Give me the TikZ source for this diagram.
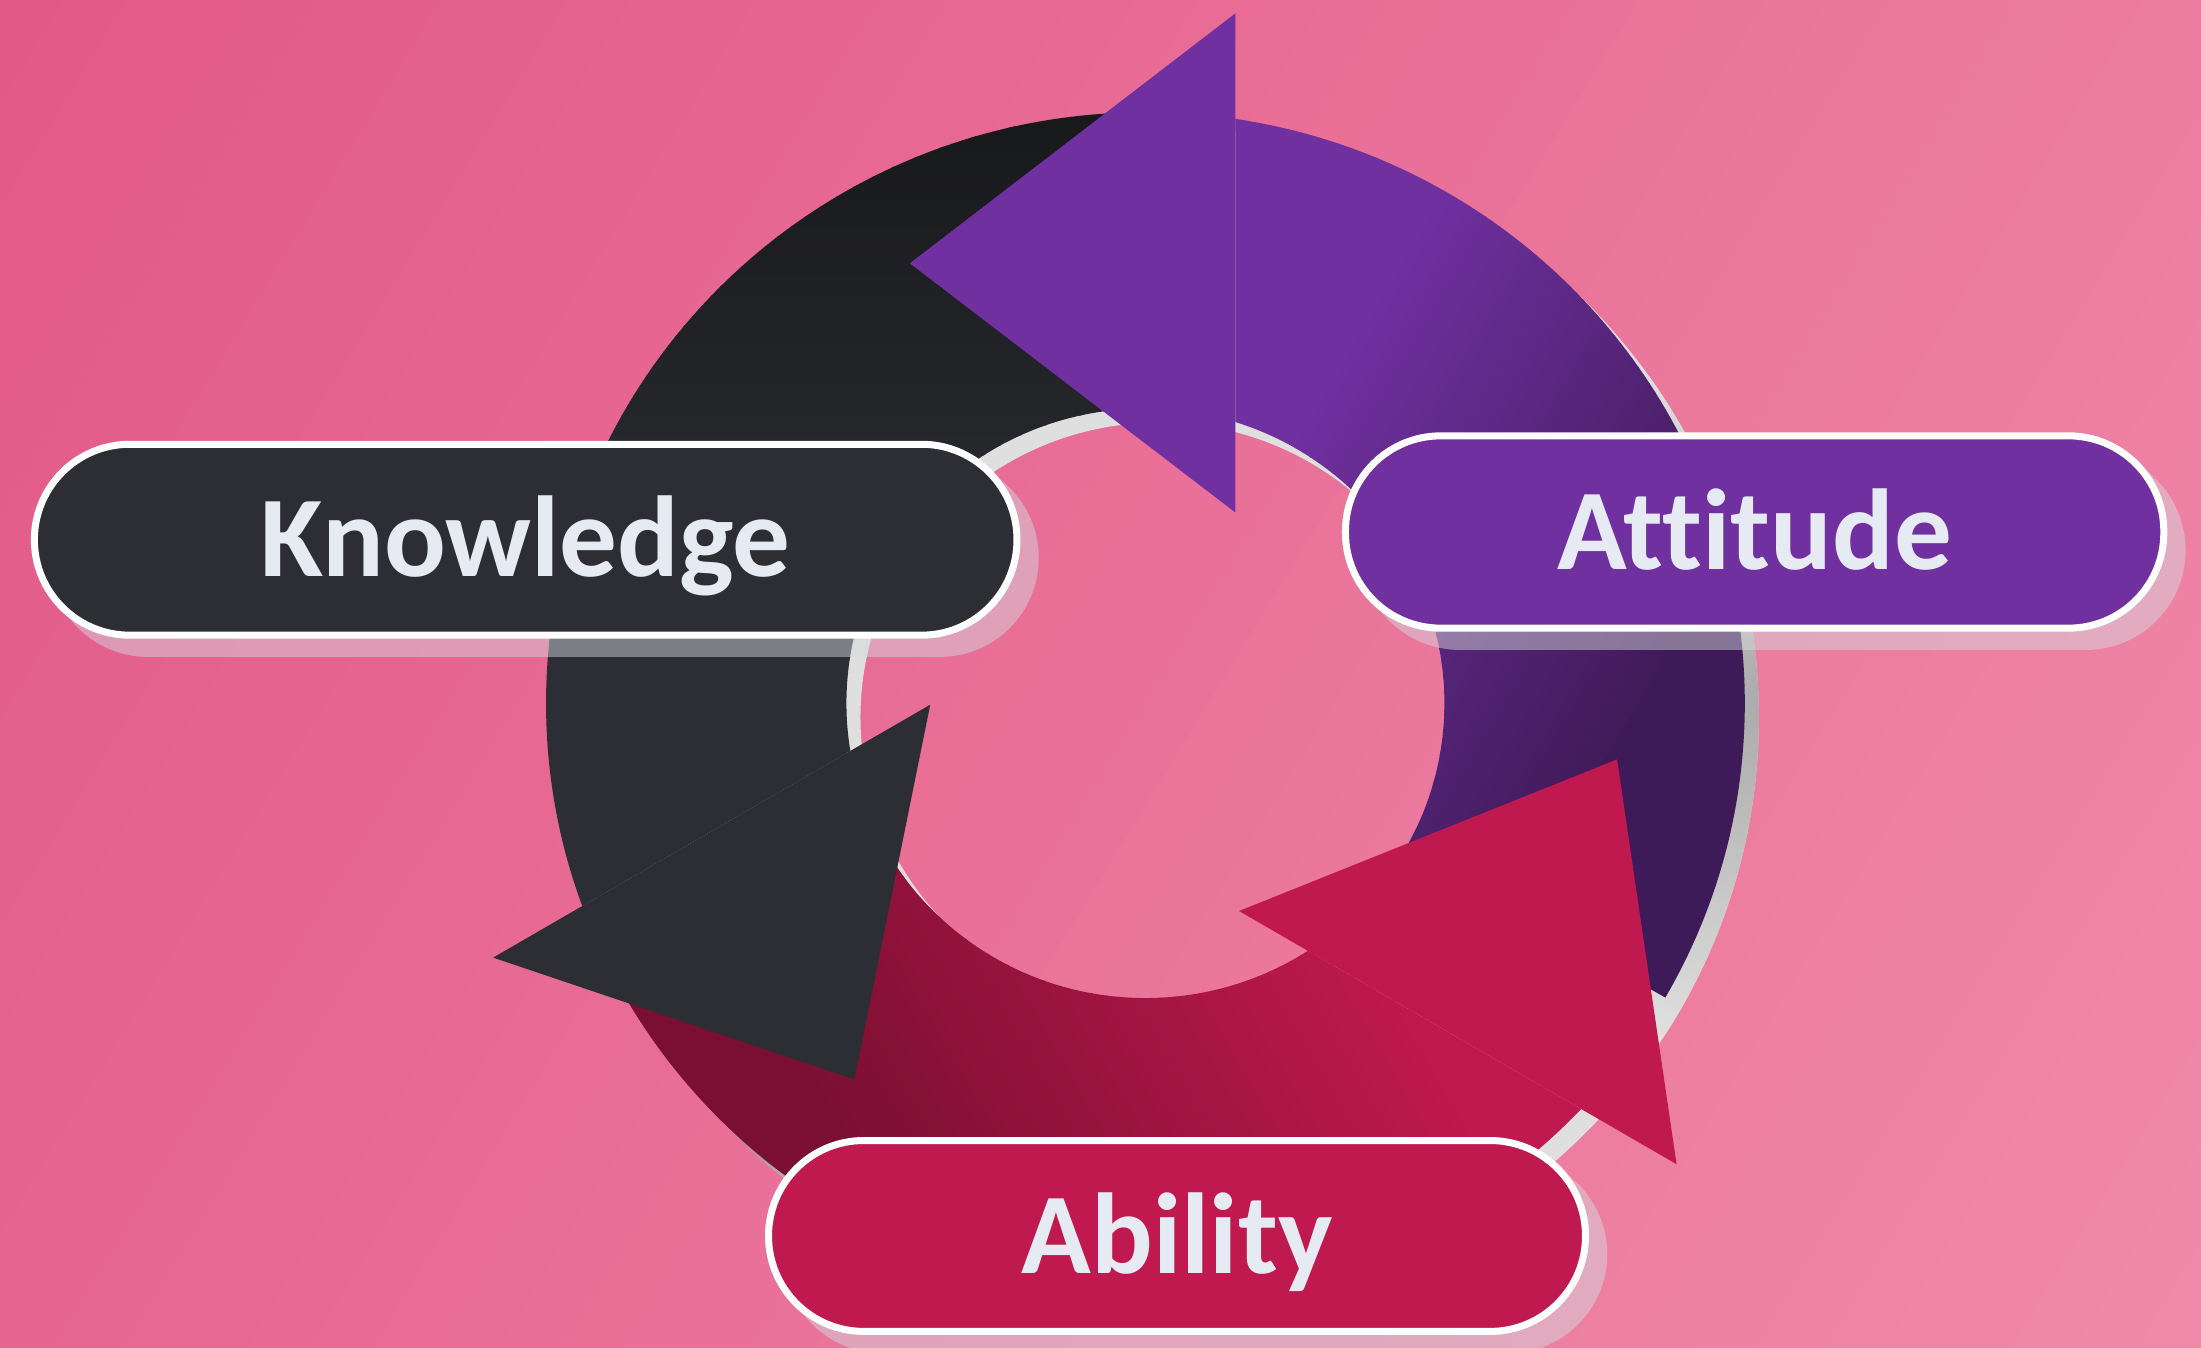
\documentclass[tikz,border=0pt]{standalone}
\usepackage{fontspec}
\setmainfont{Carlito}[Ligatures={NoCommon}]
\usetikzlibrary{calc}

\definecolor{bgA}{HTML}{E25887}
\definecolor{bgB}{HTML}{F08AAA}
\definecolor{inkK}{HTML}{2D2E33}
\definecolor{inkKtop}{HTML}{18191B}
\definecolor{inkA}{HTML}{7030A0}
\definecolor{inkAdark}{HTML}{3F1A58}
\definecolor{inkB}{HTML}{C0194F}
\definecolor{inkBdark}{HTML}{7A0F33}
\definecolor{labeltext}{HTML}{E6EAF3}
\definecolor{ringgray}{HTML}{DFDFDF}
\definecolor{ringgraymid}{HTML}{A9A9A9}
\definecolor{ringgraydark}{HTML}{6C6C6C}
\definecolor{pillshade}{HTML}{D7D9DD}

% linear colour ramp built from thin strips:
% #1,#2 start point, #3 direction angle, #4 ramp length,
% #5 start colour, #6 end colour, #7 half width of the band
\newcommand\linstrips[7]{%
  \begin{scope}[shift={(#1,#2)}, rotate=#3]
    \pgfmathsetmacro\stp{#4/48}%
    \fill[#5] (-3000,-#7) rectangle (1,#7);
    \fill[#6] (#4-1,-#7) rectangle (3000,#7);
    \foreach \k in {0,...,47}{%
      \pgfmathsetmacro\sa{\stp*\k}%
      \pgfmathsetmacro\sb{\stp*(\k+1)+1}%
      \pgfmathsetmacro\pc{100*(\k+0.5)/48}%
      \fill[#6!\pc!#5] (\sa,-#7) rectangle (\sb,#7);
    }
  \end{scope}}

% ring outline: outer ellipse one way, inner ellipse the other way
\newcommand\ringpath[2]{%
  (#1+427,#2) arc[start angle=0, end angle=360, x radius=427pt, y radius=421pt] -- cycle
  (#1+213,#2) arc[start angle=360, end angle=0, x radius=213pt, y radius=210pt] -- cycle}

\tikzset{
  pill/.style={draw=white, line width=5pt, rectangle, rounded corners=67.9pt,
    minimum height=136pt, inner sep=0pt, text=labeltext,
    font=\fontsize{82pt}{96pt}\selectfont\bfseries,
    text height=53pt, text depth=0pt},
  pillshadow/.style={fill=pillshade, fill opacity=0.48},
}

\begin{document}
\begin{tikzpicture}[x=1pt,y=-1pt]
\useasboundingbox (0,0) rectangle (1568,960);

% background
\begin{scope}
  \clip (0,0) rectangle (1568,960);
  \linstrips{0}{0}{-31.5}{1838}{bgA}{bgB}{2500}
\end{scope}

% grey ring lying behind the coloured cycle
\begin{scope}
  \clip \ringpath{826}{511};
  \fill[ringgray] (0,0) rectangle (1568,960);
  \shade[inner color=ringgraymid, outer color=ringgray] (1268,500) circle (250pt);
  \shade[inner color=ringgraydark, outer color=ringgray] (490,800) circle (130pt);
\end{scope}

% shaft: Knowledge (top -> left)
\begin{scope}
  \clip (816,501) -- (816,-200) -- (-300,-200) -- (-300,1000)
        -- (195.6,772.3) -- (725,466) -- cycle;
  \clip \ringpath{816}{501};
  \linstrips{600}{90}{-90}{340}{inkKtop}{inkK}{900}
\end{scope}

% shaft: Attitude (right -> top)
\begin{scope}
  \clip (816,501) -- (1512,895) -- (1800,895) -- (1800,-200)
        -- (880.1,-200) -- (880.1,420) -- cycle;
  \clip \ringpath{816}{501};
  \linstrips{985}{213}{-30.7}{310}{inkA}{inkAdark}{900}
\end{scope}

% shaft: Ability (bottom-left -> bottom-right)
\begin{scope}
  \clip (816,501) -- (109.6,876) -- (109.6,1400) -- (1900,1400)
        -- (1817.8,1190.2) -- (789.2,594.9) -- cycle;
  \clip \ringpath{816}{501};
  \linstrips{590}{800}{30}{400}{inkBdark}{inkB}{900}
\end{scope}

% arrow heads
\fill[inkK] (351.3,682.2) -- (662.7,502) -- (608.7,769) -- cycle;
\fill[inkA] (880.1,9.5) -- (880.1,365.1) -- (648.2,187.6) -- cycle;
\fill[inkB] (882.7,649) -- (1194.4,829.4) -- (1152,541) -- cycle;

% soft shadows under the labels
\fill[pillshadow, rounded corners=70.4pt] (35,327) rectangle (740,468);
\fill[pillshadow, rounded corners=70.9pt] (969,321) rectangle (1557,463);
\fill[pillshadow, rounded corners=70.4pt] (558,823) rectangle (1145,964);

% labels
\node[pill, fill=inkK, minimum width=700pt] (knowledge) at (374.5,384.5) {Knowledge};
\node[pill, fill=inkA, minimum width=583pt, minimum height=137pt] (attitude) at (1250,379) {Attitude};
\node[pill, fill=inkB, minimum width=582pt] (ability) at (838.5,880.5) {Ability};
\end{tikzpicture}
\end{document}
